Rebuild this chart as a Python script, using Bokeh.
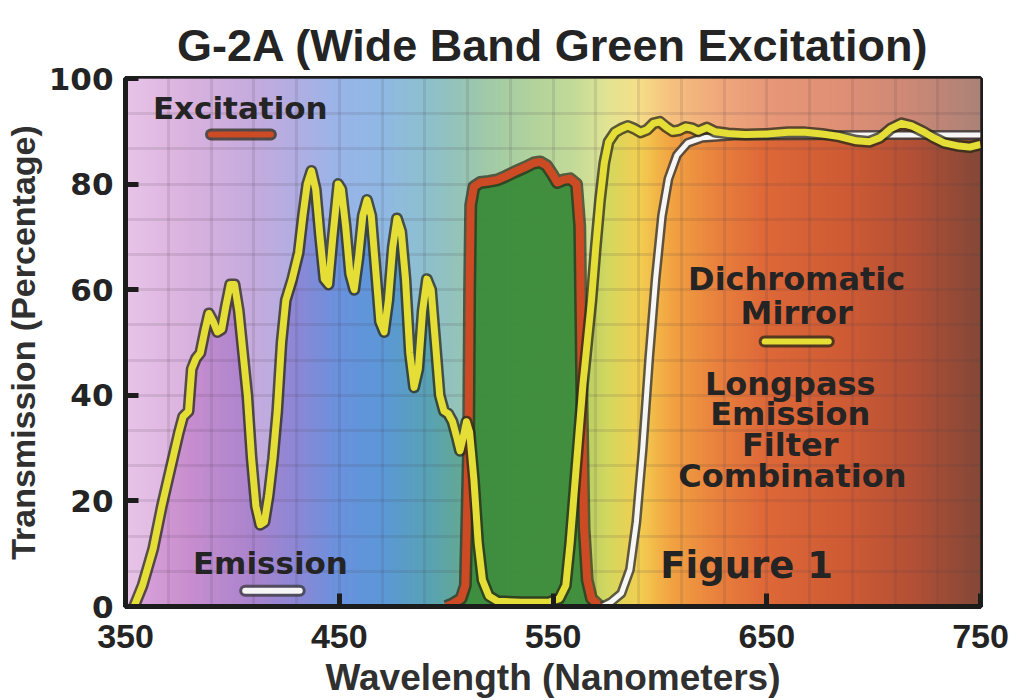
import numpy as np
from bokeh.plotting import figure
from bokeh.models import Label
from bokeh.embed import file_html
from bokeh.resources import INLINE

# ---------------- data ----------------
title_text = "G-2A (Wide Band Green Excitation)"

# Dichromatic mirror + longpass emission filter combination (yellow)
mirror_nm = [354, 358, 363, 367, 371, 375, 377, 379.5, 381, 383, 385, 387, 389, 391, 393, 395,
             397, 399, 401, 403, 405, 407, 409, 411, 413, 415, 417, 419, 421, 423, 425, 428,
             431, 433, 435, 437, 439, 441, 443, 445, 447, 449.5, 451, 453, 455, 457, 459, 461,
             463, 465, 467, 469, 471, 473, 475, 477, 479, 481, 483, 485, 487, 489, 491, 493,
             495, 497, 499, 501, 503, 505, 506.5, 508, 509.5, 511, 513, 515, 517, 520, 524,
             535, 548, 553, 556, 558, 560, 562, 564, 566, 568, 570, 572, 574, 576, 579, 582,
             585, 588, 591, 594, 597, 600, 603, 606, 609, 612, 615, 618, 622, 626, 632, 640,
             650, 660, 668, 676, 684, 692, 698, 703, 708, 713, 718, 723, 728, 733, 740, 745, 750]
mirror_pct = [0, 4, 11, 19, 26, 33, 36, 37, 45, 47, 48, 52, 55.5, 54, 52, 52.5,
              57, 61, 61, 56, 48, 40, 28, 19, 15.5, 16, 21, 28, 37, 50, 58, 62,
              67, 74, 80, 82.5, 79, 70, 62, 61, 70, 80, 79, 72, 63, 60, 66, 74,
              77, 74, 64, 54, 52, 58, 68, 73.5, 71, 62, 48, 41.5, 45, 56, 62, 60,
              50, 40, 37, 36.5, 35, 32, 29.5, 32, 35, 33, 24, 12, 5, 2, 1,
              0.8, 0.8, 1.5, 4, 12, 22, 32, 42, 50, 58, 68, 77, 84, 88, 89.8, 90.5,
              91, 90.5, 89.8, 90.3, 91.5, 91.8, 90.8, 90.0, 90.2, 90.8, 90.6, 90.0, 90.7, 89.9, 89.6, 89.4,
              89.5, 89.8, 89.8, 89.5, 89.0, 88.2, 88.0, 88.8, 90.5, 91.5, 91.0, 90.0, 88.8, 87.8, 87.2, 87.0, 87.5]

# Excitation filter (red)
excitation_nm = [500, 503, 507, 509, 510.5, 511, 511.5, 513, 516, 520, 524, 528, 532, 537, 541,
                 544, 547, 549.5, 552, 555, 558, 561, 562.5, 563.5, 564.5, 566, 568, 572]
excitation_pct = [0, 0.5, 1.5, 4, 30, 60, 76, 79.5, 80.3, 80.5, 80.8, 81.5, 82.3, 83.2, 84,
                  84.2, 83.5, 82, 80.3, 80.8, 81, 80, 72, 40, 15, 5, 1.5, 0]

# Emission (barrier) filter (white)
emission_nm = [573, 577, 582, 586, 589, 592, 595, 598, 601, 604, 608, 613, 620, 635, 700, 750]
emission_pct = [0, 0.8, 2.5, 7, 16, 30, 47, 62, 74, 81, 85.5, 87.8, 88.8, 89.2, 89.3, 89.3]

# Background spectrum colour stops
spectrum_nm = [350, 380, 410, 430, 450, 470, 490, 505, 520, 540, 560, 575, 590, 605, 625, 650, 690, 720, 750]
spectrum_r = [222, 200, 170, 140, 105, 92, 88, 98, 118, 140, 168, 210, 242, 242, 234, 222, 205, 178, 132]
spectrum_g = [168, 142, 132, 136, 146, 152, 162, 168, 178, 190, 202, 216, 208, 164, 132, 104, 90, 80, 72]
spectrum_b = [222, 206, 206, 214, 222, 216, 184, 152, 126, 110, 104, 96, 82, 66, 62, 56, 52, 54, 56]

x_ticks = [350, 450, 550, 650, 750]
y_ticks = [0, 20, 40, 60, 80, 100]
grid_x = list(range(350, 751, 20))
grid_y = [i * 100 / 15 for i in range(16)]

# ---------------- figure ----------------
TXT = "#242424"
p = figure(width=1016, height=700, x_range=(350, 750), y_range=(0, 100),
           output_backend="svg", toolbar_location=None,
           min_border_left=120, min_border_right=36, min_border_top=78, min_border_bottom=94)
p.background_fill_color = "white"
p.border_fill_color = "white"

# title
p.title.text = title_text
p.title.align = "center"
p.title.text_font = "Liberation Sans"
p.title.text_font_size = "45px"
p.title.text_font_style = "bold"
p.title.text_color = TXT
p.title.standoff = 15

# background spectrum image
N = 400
cols = np.linspace(350, 750, N)
img = np.empty((1, N), dtype=np.uint32)
view = img.view(dtype=np.uint8).reshape((1, N, 4))
view[0, :, 0] = np.interp(cols, spectrum_nm, spectrum_r).astype(np.uint8)
view[0, :, 1] = np.interp(cols, spectrum_nm, spectrum_g).astype(np.uint8)
view[0, :, 2] = np.interp(cols, spectrum_nm, spectrum_b).astype(np.uint8)
view[0, :, 3] = 255
p.image_rgba(image=[img], x=350, y=0, dw=400, dh=100, level="image")

# paler region above all curves
xs = np.linspace(350, 750, 1601)
env = np.maximum.reduce([
    np.interp(xs, mirror_nm, mirror_pct, left=0, right=mirror_pct[-1]),
    np.interp(xs, emission_nm, emission_pct, left=0, right=emission_pct[-1]),
    np.interp(xs, excitation_nm, excitation_pct, left=0, right=0),
])
p.varea(x=xs, y1=env, y2=100, fill_color="white", fill_alpha=0.32, level="image")

# grid
for g, ticks in ((p.xgrid, grid_x), (p.ygrid, grid_y)):
    g.ticker = ticks
    g.grid_line_color = "#4a3a4a"
    g.grid_line_alpha = 0.13
    g.grid_line_width = 3

# excitation green fill
p.varea(x=excitation_nm, y1=0, y2=excitation_pct, fill_color="#3c8c3c", fill_alpha=0.95)

OUT = "#2a2a18"
RED = "#cc4b24"
YEL = "#e4de36"
WHT = "#f6f6f6"
# curves: excitation, emission, mirror
p.line(excitation_nm, excitation_pct, line_color=OUT, line_width=13, line_alpha=0.7, line_join="round")
p.line(excitation_nm, excitation_pct, line_color=RED, line_width=8, line_join="round")
p.line(emission_nm, emission_pct, line_color="#3a3a3a", line_width=10, line_alpha=0.8, line_join="round")
p.line(emission_nm, emission_pct, line_color=WHT, line_width=5, line_join="round")
p.line(mirror_nm, mirror_pct, line_color=OUT, line_width=12, line_alpha=0.75, line_join="round")
p.line(mirror_nm, mirror_pct, line_color=YEL, line_width=7, line_join="round")

# legend swatches
def swatch(x0, x1, y, color, outline):
    p.segment(x0=[x0], y0=[y], x1=[x1], y1=[y], line_color=outline, line_width=12,
              line_alpha=0.75, line_cap="round")
    p.segment(x0=[x0], y0=[y], x1=[x1], y1=[y], line_color=color, line_width=6, line_cap="round")

swatch(390, 418, 89.4, RED, OUT)
swatch(406, 431.5, 3.0, WHT, "#3a3a3a")
swatch(649, 679, 50.2, YEL, OUT)

def label(x, y, text, size="31px"):
    p.add_layout(Label(x=x, y=y, text=text, text_align="center", text_baseline="middle",
                       text_font="DejaVu Sans", text_font_style="bold",
                       text_font_size=size, text_color=TXT))

label(403.7, 94.5, "Excitation")
label(417.8, 8.3, "Emission")
label(664, 62.0, "Dichromatic", "32px")
label(664, 55.5, "Mirror", "32px")
label(661, 42.2, "Longpass", "32px")
label(661, 36.5, "Emission", "32px")
label(661, 30.5, "Filter", "32px")
label(662, 24.8, "Combination", "32px")
label(640.6, 7.8, "Figure 1", size="37px")

# axes
for ax in (p.xaxis[0], p.yaxis[0]):
    ax.axis_line_width = 5
    ax.axis_line_color = "#1c1c1c"
    ax.major_tick_in = 13
    ax.major_tick_out = 0
    ax.major_tick_line_width = 5
    ax.major_tick_line_color = "#1c1c1c"
    ax.minor_tick_line_color = None
    ax.major_label_text_color = TXT
    ax.major_label_text_font_style = "bold"
    ax.axis_label_text_color = "#303030"
    ax.axis_label_text_font = "Liberation Sans"
    ax.axis_label_text_font_style = "bold"

p.xaxis.ticker = x_ticks
p.yaxis.ticker = y_ticks
p.xaxis.major_label_text_font = "Liberation Sans"
p.xaxis.major_label_text_font_size = "34px"
p.xaxis.major_label_standoff = 18
p.xaxis.axis_label = "Wavelength (Nanometers)"
p.xaxis.axis_label_text_font_size = "37px"
p.xaxis.axis_label_standoff = 6
p.yaxis.major_label_text_font = "DejaVu Sans"
p.yaxis.major_label_text_font_size = "31px"
p.yaxis.major_label_standoff = 12
p.yaxis.axis_label = "Transmission (Percentage)"
p.yaxis.axis_label_text_font_size = "34px"
p.yaxis.axis_label_standoff = 4

p.outline_line_color = "#1c1c1c"
p.outline_line_width = 5
p.outline_line_alpha = 1

open("out.html", "w").write(file_html(p, INLINE))
